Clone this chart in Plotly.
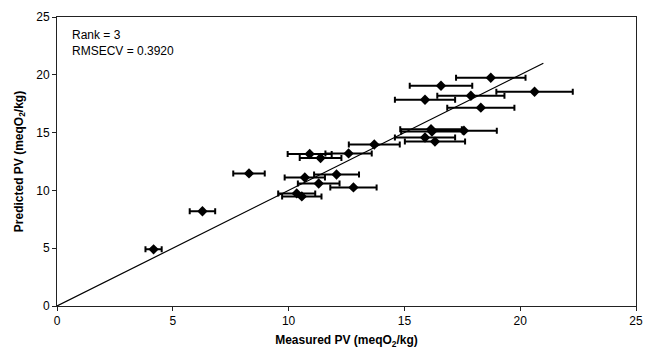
import plotly.graph_objects as go

measured = [4.17, 6.28, 8.29, 10.91, 11.38, 12.59, 13.70, 15.89, 10.70, 12.07, 11.30, 12.80,
            10.35, 10.57, 18.73, 16.58, 20.62, 17.87, 18.30, 16.15, 16.19, 17.57, 15.89, 16.32]
predicted = [4.9, 8.2, 11.47, 13.15, 12.8, 13.2, 13.97, 17.84, 11.12, 11.38, 10.6, 10.26,
             9.74, 9.48, 19.74, 19.05, 18.53, 18.19, 17.16, 15.3, 15.09, 15.17, 14.57, 14.22]
x_err = [0.35, 0.55, 0.68, 0.95, 0.9, 1.0, 1.1, 1.3, 0.87, 0.97, 0.9, 1.0,
         0.8, 0.85, 1.5, 1.35, 1.65, 1.45, 1.45, 1.33, 1.33, 1.42, 1.3, 1.3]
line_x = [0, 21]
line_y = [0, 21]
x_ticks = [0, 5, 10, 15, 20, 25]
y_ticks = [0, 5, 10, 15, 20, 25]

FONT = "Liberation Sans, Arial"

fig = go.Figure()
fig.add_trace(go.Scatter(x=line_x, y=line_y, mode="lines",
                         line=dict(color="black", width=1.2), showlegend=False))
fig.add_trace(go.Scatter(
    x=measured, y=predicted, mode="markers",
    marker=dict(symbol="diamond", color="black", size=8),
    error_x=dict(type="data", array=x_err, visible=True, color="black", thickness=2, width=3),
    showlegend=False))

fig.add_annotation(x=0.022, y=0.97, xref="paper", yref="paper", xanchor="left", yanchor="top",
                   text="Rank = 3<br>RMSECV = 0.3920", showarrow=False, align="left",
                   font=dict(family=FONT, size=12, color="black"))

axis_common = dict(showgrid=False, zeroline=False, showline=True, mirror=True, automargin=False,
                   linecolor="#222", linewidth=1, ticks="outside", ticklen=4,
                   tickcolor="#222", tickfont=dict(family=FONT, size=12, color="black"))
fig.update_xaxes(range=[0, 25], tickvals=x_ticks,
                 title=dict(text="<b>Measured PV (meqO<sub>2</sub>/kg)</b>",
                            font=dict(family=FONT, size=12, color="black"), standoff=8),
                 **axis_common)
fig.update_yaxes(range=[0, 25], tickvals=y_ticks,
                 title=dict(text="<b>Predicted PV (meqO<sub>2</sub>/kg)</b>",
                            font=dict(family=FONT, size=12, color="black"), standoff=10),
                 **axis_common)
fig.update_layout(width=646, height=353, margin=dict(l=57, r=10, t=17, b=47),
                  plot_bgcolor="white", paper_bgcolor="white")
fig.write_html("out.html", config={"displayModeBar": False},
               post_script="document.body.style.margin='0';")
